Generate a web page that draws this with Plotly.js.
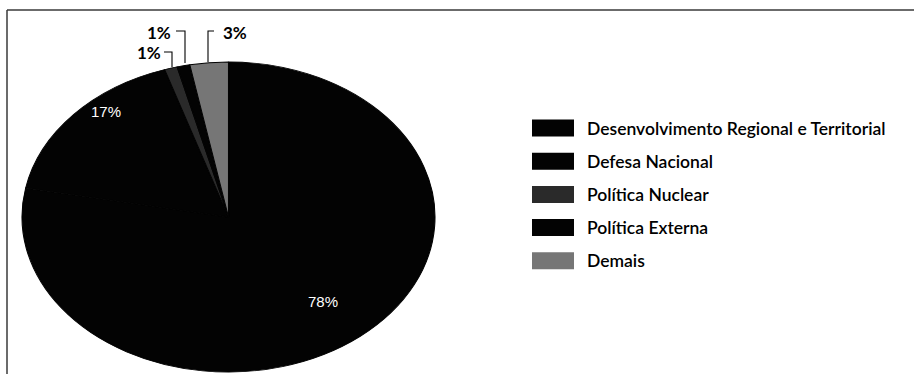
<!DOCTYPE html>
<html>
<head>
<meta charset="utf-8">
<script src="https://cdn.plot.ly/plotly-3.0.1.min.js"></script>
<style>
  html, body { margin: 0; padding: 0; background: #fff; }
  #chart { width: 914px; height: 374px; }
</style>
</head>
<body>
<div id="chart"></div>
<script>
// Share of each policy area (%), clockwise from 12 o'clock
const categories = [
  "Desenvolvimento Regional e Territorial",
  "Defesa Nacional",
  "Política Nuclear",
  "Política Externa",
  "Demais"
];
const shares = [78, 17, 1, 1, 3];
const sliceColors = ["#030303", "#030303", "#2a2a2a", "#030303", "#767676"];
const labelText = ["78%", "17%", "1%", "1%", "3%"];

const W = 914, H = 374;
const px = x => x / W;          // pixel -> paper x
const py = y => 1 - y / H;      // pixel -> paper y

// pie geometry: circle drawn by plotly, then stretched horizontally into an ellipse
const cx = 228.5, cy = 217, ry = 155, rx = 206.5;
const stretch = rx / ry;

const pieTrace = {
  type: "pie",
  values: shares,
  labels: categories,
  sort: false,
  direction: "clockwise",
  rotation: 0,
  textinfo: "none",
  hoverinfo: "none",
  marker: { colors: sliceColors, line: { width: 0.8, color: "#030303" } },
  domain: { x: [px(cx - ry), px(cx + ry)], y: [py(cy + ry), py(cy - ry)] },
  showlegend: false
};

const shapes = [];
const annotations = [];

// frame (top and left rules)
shapes.push({ type: "line", xref: "paper", yref: "paper", x0: px(7), x1: px(914), y0: py(10), y1: py(10), line: { color: "#3a3a3a", width: 1.5 } });
shapes.push({ type: "line", xref: "paper", yref: "paper", x0: px(7), x1: px(7), y0: py(10), y1: py(374), line: { color: "#3a3a3a", width: 1.5 } });

function label(x, y, text, font) {
  annotations.push({ xref: "paper", yref: "paper", x: px(x), y: py(y), xanchor: "center", yanchor: "middle",
    text: text, showarrow: false, font: font });
}

// slice labels inside the pie
const innerFont = { family: "Liberation Sans, Arial", size: 15, color: "#ffffff" };
label(323, 301, labelText[0], innerFont);
label(106, 112, labelText[1], innerFont);

// small slices: bold labels with bracket leaders
const outerFont = { family: "Lato", size: 17, color: "#000000", weight: 700 };
const leaders = [
  { t: labelText[2], tx: 149, ty: 52, pts: [[164, 52], [172, 52], [172, 67]] },
  { t: labelText[3], tx: 159, ty: 32, pts: [[176, 31], [185, 31], [185, 63]] },
  { t: labelText[4], tx: 235, ty: 32, pts: [[214, 31], [208, 31], [208, 62]] }
];
leaders.forEach(l => {
  label(l.tx, l.ty, l.t, outerFont);
  const d = "M" + l.pts.map(p => px(p[0]) + "," + py(p[1])).join(" L");
  shapes.push({ type: "path", xref: "paper", yref: "paper", path: d, line: { color: "#000", width: 1.1 } });
});

// legend built from the categories
const legX = 532, legW = 42, legH = 17, legY0 = 128, legStep = 33.2;
categories.forEach((c, i) => {
  const yc = legY0 + i * legStep;
  shapes.push({ type: "rect", xref: "paper", yref: "paper",
    x0: px(legX), x1: px(legX + legW), y0: py(yc + legH / 2), y1: py(yc - legH / 2),
    fillcolor: sliceColors[i], line: { width: 0 } });
  annotations.push({ xref: "paper", yref: "paper", x: px(585), y: py(yc), xanchor: "left", yanchor: "middle",
    text: c, showarrow: false, font: { family: "Lato", size: 17.5, color: "#000", weight: 600 } });
});

const layout = {
  width: W, height: H,
  margin: { l: 0, r: 0, t: 0, b: 0 },
  paper_bgcolor: "#ffffff",
  showlegend: false,
  shapes: shapes,
  annotations: annotations
};

Plotly.newPlot("chart", [pieTrace], layout, { displayModeBar: false, staticPlot: true }).then(gd => {
  // stretch the circular pie into the wide ellipse
  const layer = gd.querySelector(".pielayer");
  if (layer) {
    layer.setAttribute("transform",
      "translate(" + cx + ",0) scale(" + stretch + ",1) translate(" + (-cx) + ",0)");
  }
});
</script>
</body>
</html>
